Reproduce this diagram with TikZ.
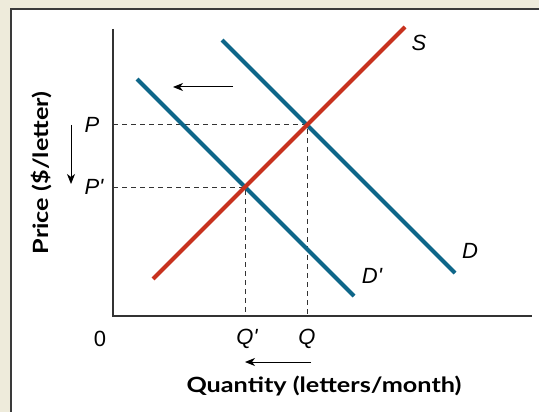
\documentclass[tikz,border=0pt]{standalone}
\usepackage{fontspec}
\setmainfont{Liberation Sans}
\newfontfamily\axisfont[FakeStretch=1.2]{Lato}
\usetikzlibrary{arrows.meta}
\definecolor{bgbeige}{HTML}{EEEBDB}
\definecolor{framegray}{HTML}{3A3A3A}
\definecolor{demblue}{HTML}{0E6689}
\definecolor{supred}{HTML}{C8321E}
\definecolor{axgray}{HTML}{333333}
\tikzset{
  curve/.style={line width=4pt},
  dem/.style={curve, draw=demblue},
  sup/.style={curve, draw=supred},
  axisline/.style={draw=axgray, line width=1.1pt},
  guide/.style={draw=axgray, line width=1pt, dash pattern=on 5pt off 4pt},
  shiftarrow/.style={draw=black, line width=1pt, -{Stealth[length=10pt,width=8pt,inset=3pt]}},
  lbl/.style={font=\fontsize{22}{24}\selectfont\itshape, inner sep=0pt},
  tick/.style={font=\fontsize{22}{24}\selectfont, inner sep=0pt},
  axlbl/.style={font=\axisfont\bfseries\fontsize{21}{24}\selectfont, inner sep=0pt}
}
\begin{document}
\begin{tikzpicture}[x=1pt,y=-1pt]
\useasboundingbox (0,0) rectangle (539,412);
\fill[bgbeige] (0,0) rectangle (539,412);
\fill[white] (11,9) rectangle (539,412);
\draw[framegray, line width=1.5pt] (11,412) -- (11,9) -- (539,9);
% axes
\coordinate (origin) at (113,316);
\coordinate (ytop) at (113,29);
\coordinate (xend) at (532,316);
\draw[axisline] (ytop) -- (origin) -- (xend);
% equilibrium points
\coordinate (E) at (307,125);
\coordinate (E2) at (245,187);
\coordinate (Py) at (113,125);
\coordinate (P2y) at (113,187);
\coordinate (Qx) at (307,316);
\coordinate (Q2x) at (245,316);
\draw[guide] (Py) -- (E) -- (Qx);
\draw[guide] (P2y) -- (E2) -- (Q2x);
% curves
\coordinate (S1) at (153,279);
\coordinate (S2) at (405,27);
\coordinate (D1) at (222,40);
\coordinate (D2) at (455,273);
\coordinate (Dp1) at (137,79);
\coordinate (Dp2) at (354,296);
\draw[dem] (D1) -- (D2);
\draw[dem] (Dp1) -- (Dp2);
\draw[sup] (S1) -- (S2);
% labels
\node[lbl] (Slbl) at (419,43) {S};
\node[lbl] (Dlbl) at (470,251) {D};
\node[lbl] (Dplbl) at (372,276) {D\textquotesingle};
\node[lbl] (Plbl) at (92,125) {P};
\node[lbl] (P2lbl) at (94,187) {P\textquotesingle};
\node[lbl] (Qlbl) at (307,339) {Q};
\node[lbl] (Q2lbl) at (247,339) {Q\textquotesingle};
\node[tick] (zero) at (100,339) {0};
% shift arrows
\coordinate (ta1) at (233,87);
\coordinate (ta2) at (173,87);
\draw[shiftarrow] (ta1) -- (ta2);
\coordinate (pa1) at (71,125);
\coordinate (pa2) at (71,184);
\draw[shiftarrow] (pa1) -- (pa2);
\coordinate (qa1) at (311,362);
\coordinate (qa2) at (245,362);
\draw[shiftarrow] (qa1) -- (qa2);
% axis titles
\node[axlbl] (xtitle) at (324,386) {Quantity (letters/month)};
\node[axlbl, rotate=90] (ytitle) at (42,173) {Price (\$/letter)};
\end{tikzpicture}
\end{document}
